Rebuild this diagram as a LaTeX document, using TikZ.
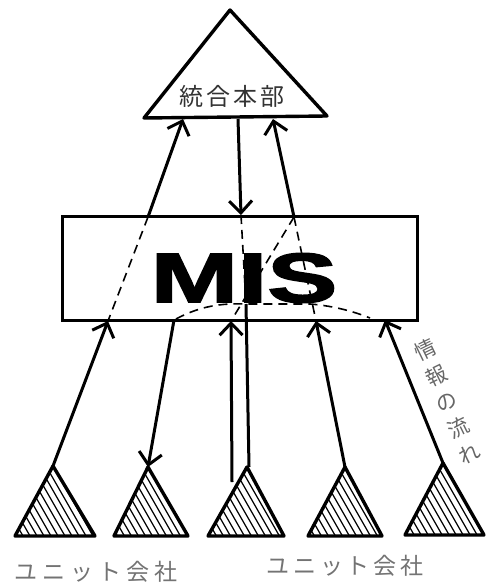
\documentclass[tikz,border=0pt]{standalone}
\usepackage{fontspec}
\usepackage{graphicx}
\usetikzlibrary{arrows.meta}
\newfontfamily\cjk{Noto Sans CJK JP}
\newfontfamily\misfont[BoldFeatures={FakeBold=2}]{Liberation Sans}
\tikzset{
  thickline/.style={line width=3.4pt, line join=round},
  flow/.style={line width=3pt, -{Straight Barb[length=12pt,width=23pt,line width=3pt]}},
  plainflow/.style={line width=3pt},
  dashline/.style={line width=1.6pt, dash pattern=on 9pt off 6pt},
  hatch/.style={line width=1.2pt},
  labeltext/.style={text=black!55, inner sep=0pt},
  vtext/.style={text=black!60, inner sep=0pt, rotate=26},
}
% name, apex x, apex y, left base x, right base x, base y
\newcommand\unittri[6]{%
  \coordinate (#1) at (#2,#3);
  \begin{scope}
    \clip (#2,#3) -- (#5,#6) -- (#4,#6) -- cycle;
    \foreach \k in {-91,-84,...,91}
      \draw[hatch] (#2+\k-60,#3-105) -- (#2+\k+60,#3+105);
  \end{scope}
  \draw[thickline] (#2,#3) -- (#5,#6) -- (#4,#6) -- cycle;
}
\begin{document}
\begin{tikzpicture}[x=1pt,y=-1pt]
\useasboundingbox (0,0) rectangle (485,588);

% top triangle
\draw[thickline] (230,10) -- (327,116) -- (144,118) -- cycle;
\node[text=black!80, inner sep=0pt] (hq) at (232,96)
  {\cjk\fontsize{24}{24}\selectfont\addfontfeatures{LetterSpace=12}統合本部};

% MIS box
\node[draw, line width=3pt, minimum width=355pt, minimum height=104pt, inner sep=0pt] (box) at (239.5,268) {};
\node[inner sep=0pt] (mis) at (244,278)
  {\misfont\bfseries\fontsize{70}{70}\selectfont\scalebox{1.5}[1]{MIS}};

% unit companies
\unittri{t1}{53}{466}{15}{95}{536}
\unittri{t2}{148}{467}{114}{188}{536}
\unittri{t3}{247}{467}{208}{284}{536}
\unittri{t4}{345}{467}{308}{382}{536}
\unittri{t5}{443}{463}{405}{484}{535}

% attachment points
\coordinate (a1s) at (148,217);
\coordinate (a1e) at (183,119);
\coordinate (a2s) at (238,119);
\coordinate (a2e) at (241,215);
\coordinate (a3s) at (294,217);
\coordinate (a3e) at (273,119);
\coordinate (b1e) at (108,321);
\coordinate (b2s) at (174,320);
\coordinate (b3ls) at (232,482);
\coordinate (b3le) at (231,321);
\coordinate (b3rs) at (249,467);
\coordinate (b3re) at (246,304);
\coordinate (b4e) at (316,321);
\coordinate (b5e) at (385,320);
\coordinate (cl) at (176,319);
\coordinate (cr) at (370,318);
\coordinate (cmr) at (310,304);

% solid flows
\draw[flow] (a1s) -- (a1e);
\draw[flow] (a2s) -- (a2e);
\draw[flow] (a3s) -- (a3e);
\draw[flow] (t1) -- (b1e);
\draw[flow] (b2s) -- (t2);
\draw[flow] (b3ls) -- (b3le);
\draw[plainflow] (b3rs) -- (b3re);
\draw[flow] (t4) -- (b4e);
\draw[flow] (t5) -- (b5e);

% dashed flows inside MIS
\draw[dashline] (a1s) -- (b1e);
\draw[dashline] (a2e) -- (b3re);
\draw[dashline] (a3s) -- (b3le);
\draw[dashline] (a3s) -- (b4e);
\draw[dashline] (cl) .. controls (200,306) and (222,303) .. (b3re) -- (cmr) .. controls (335,306) and (355,312) .. (cr);

% labels
\node[labeltext] (u1) at (96,572)
  {\cjk\fontsize{23}{23}\selectfont\addfontfeatures{LetterSpace=22}ユニット会社};
\node[labeltext] (u2) at (345,566)
  {\cjk\fontsize{23}{23}\selectfont\addfontfeatures{LetterSpace=16}ユニット会社};

\node[vtext] (f1) at (425,350) {\cjk\fontsize{21}{21}\selectfont 情};
\node[vtext] (f2) at (436,376) {\cjk\fontsize{21}{21}\selectfont 報};
\node[vtext] (f3) at (447,402) {\cjk\fontsize{21}{21}\selectfont の};
\node[vtext] (f4) at (458,428) {\cjk\fontsize{21}{21}\selectfont 流};
\node[vtext] (f5) at (469,454) {\cjk\fontsize{21}{21}\selectfont れ};
\end{tikzpicture}
\end{document}
